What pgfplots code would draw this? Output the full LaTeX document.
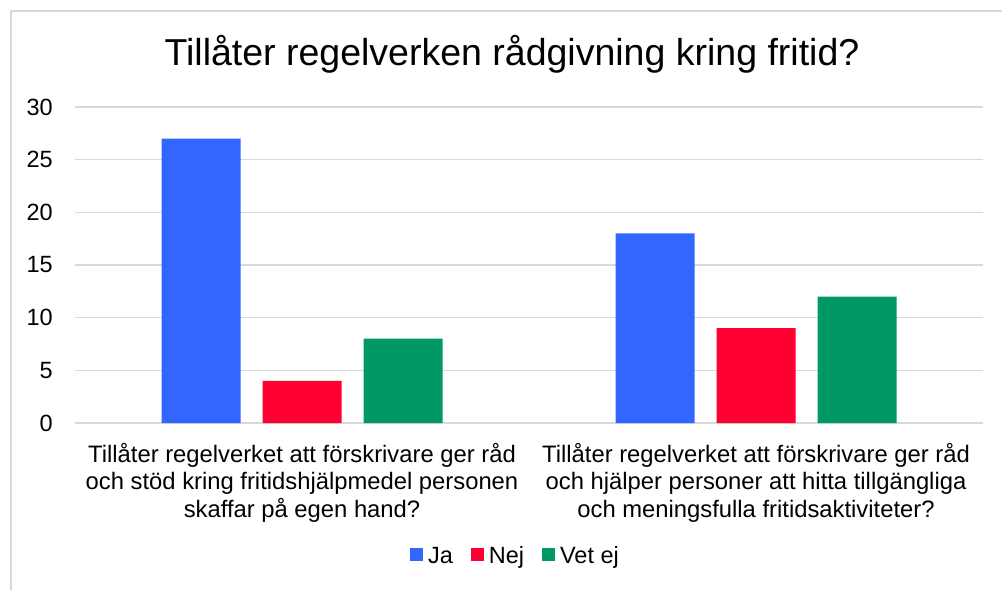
\documentclass[border=0pt]{standalone}
\usepackage{pgfplots}
\pgfplotsset{compat=1.18}
\usepackage{fontspec}
\setmainfont{Liberation Sans}
\definecolor{cja}{HTML}{3366FF}
\definecolor{cnej}{HTML}{FF0033}
\definecolor{cvet}{HTML}{009966}
\definecolor{cgrid}{HTML}{D9D9D9}
\begin{document}
\begin{tikzpicture}
\useasboundingbox (0pt,0pt) rectangle (1002pt,590pt);
\draw[cgrid, line width=1.5pt] (11pt,0pt) -- (11pt,579pt) -- (1002pt,579pt);
\node[anchor=base, inner sep=0pt, font=\fontsize{37.5}{42}\selectfont] at (512pt,524pt) {Tillåter regelverken rådgivning kring fritid?};
\begin{axis}[
  at={(75pt,167pt)}, anchor=south west,
  scale only axis, width=908pt, height=316pt,
  xmin=-0.5, xmax=1.5, ymin=0, ymax=30,
  ybar=22pt, bar width=79pt,
  xtick={0,1},
  xticklabels={{Tillåter regelverket att förskrivare ger råd\\och stöd kring fritidshjälpmedel personen\\skaffar på egen hand?},{Tillåter regelverket att förskrivare ger råd\\och hjälper personer att hitta tillgängliga\\och meningsfulla fritidsaktiviteter?}},
  xticklabel style={align=center, font=\fontsize{23.8}{27.5}\selectfont, inner sep=0pt, yshift=-20pt},
  ytick={0,5,...,30},
  yticklabel style={font=\fontsize{23.5}{26}\selectfont, inner sep=0pt, xshift=-22pt},
  /pgf/number format/assume math mode=true,
  major tick length=0pt,
  ymajorgrids, grid style={cgrid, line width=1.3pt},
  axis line style={draw=none},
  legend columns=3,
  legend style={at={(0.484,-0.421)}, anchor=center, draw=none, fill=none,
    font=\fontsize{23.5}{26}\selectfont, inner sep=0pt,
    nodes={inner sep=0pt},
    /tikz/every odd column/.append style={column sep=5pt},
    /tikz/every even column/.append style={column sep=18pt}},
  legend image code/.code={\fill[#1] (0pt,-4.5pt) rectangle (13pt,8.5pt);},
]
\addplot[fill=cja, draw=none] coordinates {(0,27) (1,18)};
\addplot[fill=cnej, draw=none] coordinates {(0,4) (1,9)};
\addplot[fill=cvet, draw=none] coordinates {(0,8) (1,12)};
\legend{Ja,Nej,Vet ej}
\end{axis}
\end{tikzpicture}
\end{document}
